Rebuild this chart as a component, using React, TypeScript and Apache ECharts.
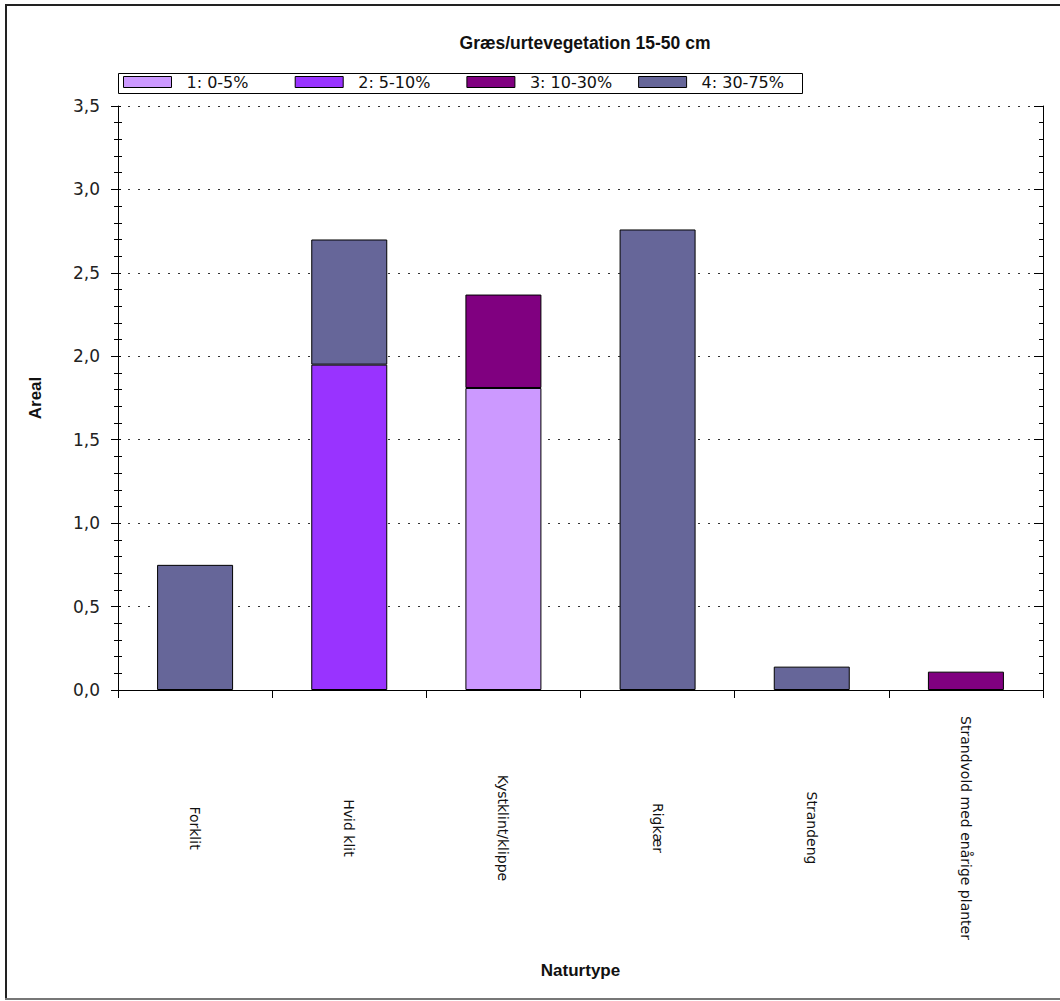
import React, { useEffect, useRef } from "react";
import * as echarts from "echarts";

const categories = [
  "Forklit",
  "Hvid klit",
  "Kystklint/klippe",
  "Rigkær",
  "Strandeng",
  "Strandvold med enårige planter",
];
const seriesNames = ["1: 0-5%", "2: 5-10%", "3: 10-30%", "4: 30-75%"];
const seriesColors = ["#CC99FF", "#9933FF", "#800080", "#666699"];
const s1 = [null, null, 1.81, null, null, null];
const s2 = [null, 1.95, null, null, null, null];
const s3 = [null, null, 0.56, null, null, 0.11];
const s4 = [0.75, 0.75, null, 2.76, 0.14, null];
const seriesValues = [s1, s2, s3, s4];
const yTicks = { min: 0, max: 3.5, interval: 0.5 };

const FONT = "'Liberation Sans', Arial, sans-serif";
const DV = "'DejaVu Sans', sans-serif";

export default function App() {
  const ref = useRef<HTMLDivElement>(null);
  useEffect(() => {
    if (!ref.current) return;
    const chart = echarts.init(ref.current, null, { renderer: "svg" });
    const fmt = (v: number) => v.toFixed(1).replace(".", ",");
    const legends = seriesNames.map((name, i) => ({
      left: 123 + 171.7 * i,
      top: 74,
      orient: "horizontal",
      padding: 0,
      itemWidth: 48,
      itemHeight: 11,
      icon: "rect",
      itemStyle: { borderColor: "#000", borderWidth: 1 },
      textStyle: {
        fontFamily: DV,
        fontSize: 16,
        color: "#111",
        padding: [0, 0, 0, 10],
      },
      data: [name],
    }));
    const option: any = {
      animation: false,
      backgroundColor: "#ffffff",
      title: {
        text: "Græs/urtevegetation 15-50 cm",
        left: 580,
        top: 29,
        textAlign: "center",
        textStyle: { fontFamily: FONT, fontSize: 17.5, fontWeight: "bold", color: "#111" },
      },
      legend: legends,
      grid: { left: 118, right: 17, top: 106, bottom: 311 },
      xAxis: [
        {
          type: "category",
          data: categories,
          position: "bottom",
          axisLine: { show: true, lineStyle: { color: "#000", width: 1 } },
          axisTick: { show: true, length: 8, lineStyle: { color: "#000" } },
          axisLabel: {
            interval: 0,
            rotate: -90,
            align: "center",
            verticalAlign: "middle",
            margin: 138,
            fontFamily: DV,
            fontSize: 14,
            color: "#111",
          },
          name: "Naturtype",
          nameLocation: "middle",
          nameGap: 272,
          nameTextStyle: { fontFamily: FONT, fontSize: 17, fontWeight: "bold", color: "#111" },
        },
        {
          type: "category",
          data: categories,
          position: "top",
          axisLine: { show: true, lineStyle: { color: "#000", width: 1 } },
          axisTick: { show: false },
          axisLabel: { show: false },
        },
      ],
      yAxis: [
        {
          type: "value",
          position: "left",
          min: yTicks.min,
          max: yTicks.max,
          interval: yTicks.interval,
          axisLine: { show: true, lineStyle: { color: "#000", width: 1 } },
          axisTick: { show: true, length: 7, inside: false, lineStyle: { color: "#000" } },
          minorTick: { show: true, splitNumber: 5, length: 4, lineStyle: { color: "#000" } },
          axisLabel: {
            formatter: fmt,
            margin: 18,
            fontFamily: DV,
            fontSize: 17,
            color: "#222",
          },
          splitLine: {
            show: true,
            lineStyle: { color: "#333", type: [2, 8], width: 1 },
          },
          name: "Areal",
          nameLocation: "middle",
          nameGap: 74,
          nameRotate: 90,
          nameTextStyle: { fontFamily: FONT, fontSize: 17, fontWeight: "bold", color: "#111" },
        },
        {
          type: "value",
          position: "left",
          min: yTicks.min,
          max: yTicks.max,
          interval: yTicks.interval,
          axisLine: { show: false },
          axisTick: { show: true, length: 3, inside: true, lineStyle: { color: "#000" } },
          minorTick: { show: true, splitNumber: 5, length: 4, lineStyle: { color: "#000" } },
          axisLabel: { show: false },
          splitLine: { show: false },
        },
        {
          type: "value",
          position: "right",
          min: yTicks.min,
          max: yTicks.max,
          interval: yTicks.interval,
          axisLine: { show: true, lineStyle: { color: "#000", width: 1 } },
          axisTick: { show: true, length: 9, inside: true, lineStyle: { color: "#000" } },
          minorTick: { show: true, splitNumber: 5, length: 4, lineStyle: { color: "#000" } },
          axisLabel: { show: false },
          splitLine: { show: false },
        },
      ],
      series: seriesNames.map((name, i) => ({
        name,
        type: "bar",
        stack: "total",
        barWidth: 76,
        xAxisIndex: 0,
        yAxisIndex: 0,
        data: seriesValues[i].map((v) => (v == null ? "-" : v)),
        itemStyle: { color: seriesColors[i], borderColor: "#000", borderWidth: 1 },
      })),
      graphic: [
        {
          type: "rect",
          shape: { x: 118.5, y: 73.5, width: 684, height: 20 },
          style: { fill: "none", stroke: "#000", lineWidth: 1 },
          z: 100,
        },
        {
          type: "line",
          shape: { x1: 6, y1: 5, x2: 6, y2: 999 },
          style: { stroke: "#222", lineWidth: 2 },
        },
        {
          type: "line",
          shape: { x1: 5, y1: 5, x2: 1060, y2: 5 },
          style: { stroke: "#222", lineWidth: 2 },
        },
        {
          type: "line",
          shape: { x1: 5, y1: 999, x2: 1060, y2: 999 },
          style: { stroke: "#777", lineWidth: 2 },
        },
      ],
    };
    chart.setOption(option);
    return () => chart.dispose();
  }, []);
  return (
    <div
      ref={ref}
      style={{ position: "absolute", left: 0, top: 0, width: 1060, height: 1001 }}
    />
  );
}
